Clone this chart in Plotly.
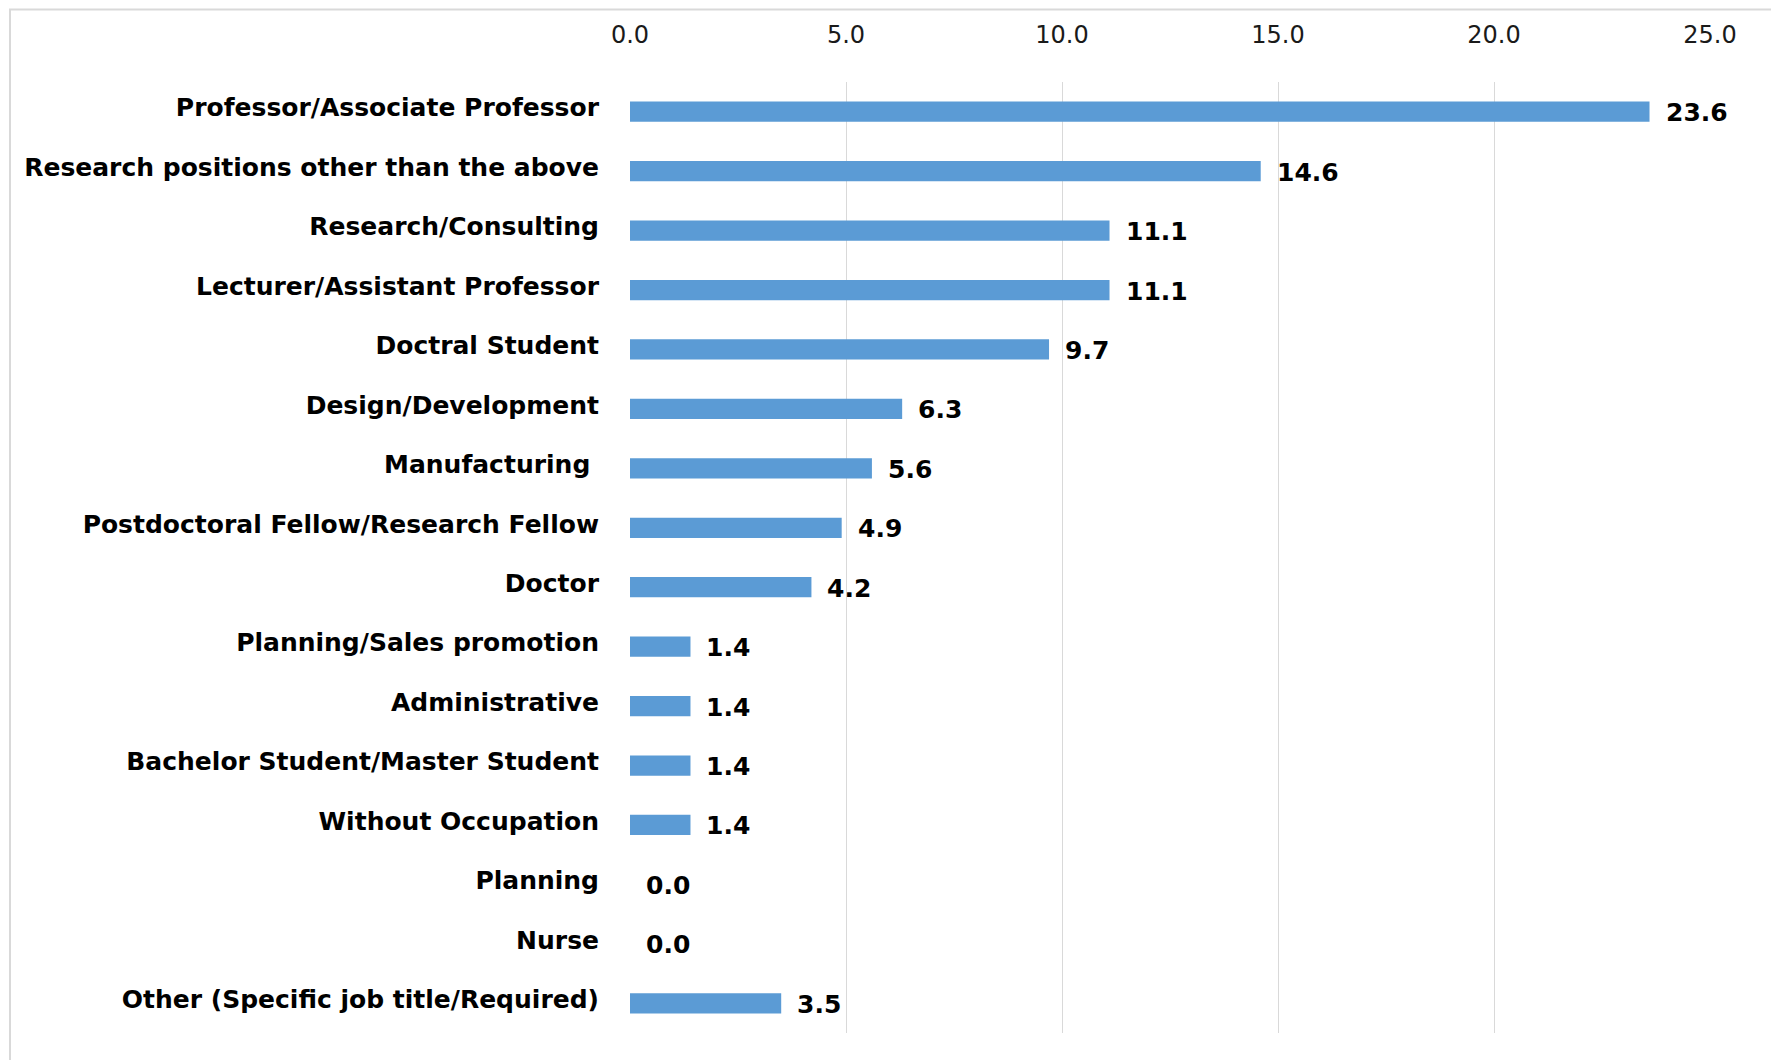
import plotly.graph_objects as go

categories = [
    "Professor/Associate Professor",
    "Research positions other than the above",
    "Research/Consulting",
    "Lecturer/Assistant Professor",
    "Doctral Student",
    "Design/Development",
    "Manufacturing ",
    "Postdoctoral Fellow/Research Fellow",
    "Doctor",
    "Planning/Sales promotion",
    "Administrative",
    "Bachelor Student/Master Student",
    "Without Occupation",
    "Planning",
    "Nurse",
    "Other (Specific job title/Required)",
]
values = [23.6, 14.6, 11.1, 11.1, 9.7, 6.3, 5.6, 4.9, 4.2, 1.4, 1.4, 1.4, 1.4, 0.0, 0.0, 3.5]
tick_vals = [0, 5, 10, 15, 20, 25]
tick_text = ["0.0", "5.0", "10.0", "15.0", "20.0", "25.0"]

W, H = 1779, 1060
L, R, T, B = 622, 77, 74, 35

fig = go.Figure(go.Bar(
    x=values, y=categories, orientation="h",
    marker=dict(color="#5B9BD5", line=dict(width=0)),
    cliponaxis=False,
))

for v, c in zip(values, categories):
    fig.add_annotation(
        x=v, y=c, text=f"{v:.1f}", showarrow=False,
        xanchor="left", yanchor="middle", xshift=14, yshift=-1,
        font=dict(family="DejaVu Sans", size=25, color="#000000", weight="bold"),
    )

fig.update_layout(
    width=W, height=H,
    margin=dict(l=L, r=R, t=T, b=B, pad=0),
    paper_bgcolor="white", plot_bgcolor="white",
    bargap=0.66,
    showlegend=False,
    xaxis=dict(
        side="top", range=[0, 25], tickvals=tick_vals, ticktext=tick_text,
        showgrid=True, gridcolor="#d9d9d9", gridwidth=1.3,
        zeroline=False, showline=False, ticks="",
        tickfont=dict(family="DejaVu Sans", size=24, color="#1a1a1a"),
        ticklabelstandoff=33,
    ),
    yaxis=dict(
        autorange="reversed", showgrid=False, zeroline=False, showline=False, ticks="",
        tickfont=dict(family="DejaVu Sans", size=25, color="#000000", weight="bold"),
        ticklabelstandoff=30, ticklabelshift=4,
    ),
    shapes=[dict(
        type="rect", xref="paper", yref="paper",
        x0=(2 - L) / (W - L - R), x1=(1769 - L) / (W - L - R),
        y0=(H - B - 1100) / (H - T - B), y1=(H - B - 1.5) / (H - T - B),
        line=dict(color="#d9d9d9", width=2), fillcolor="rgba(0,0,0,0)", layer="below",
    )],
)

fig.write_html("out.html")
